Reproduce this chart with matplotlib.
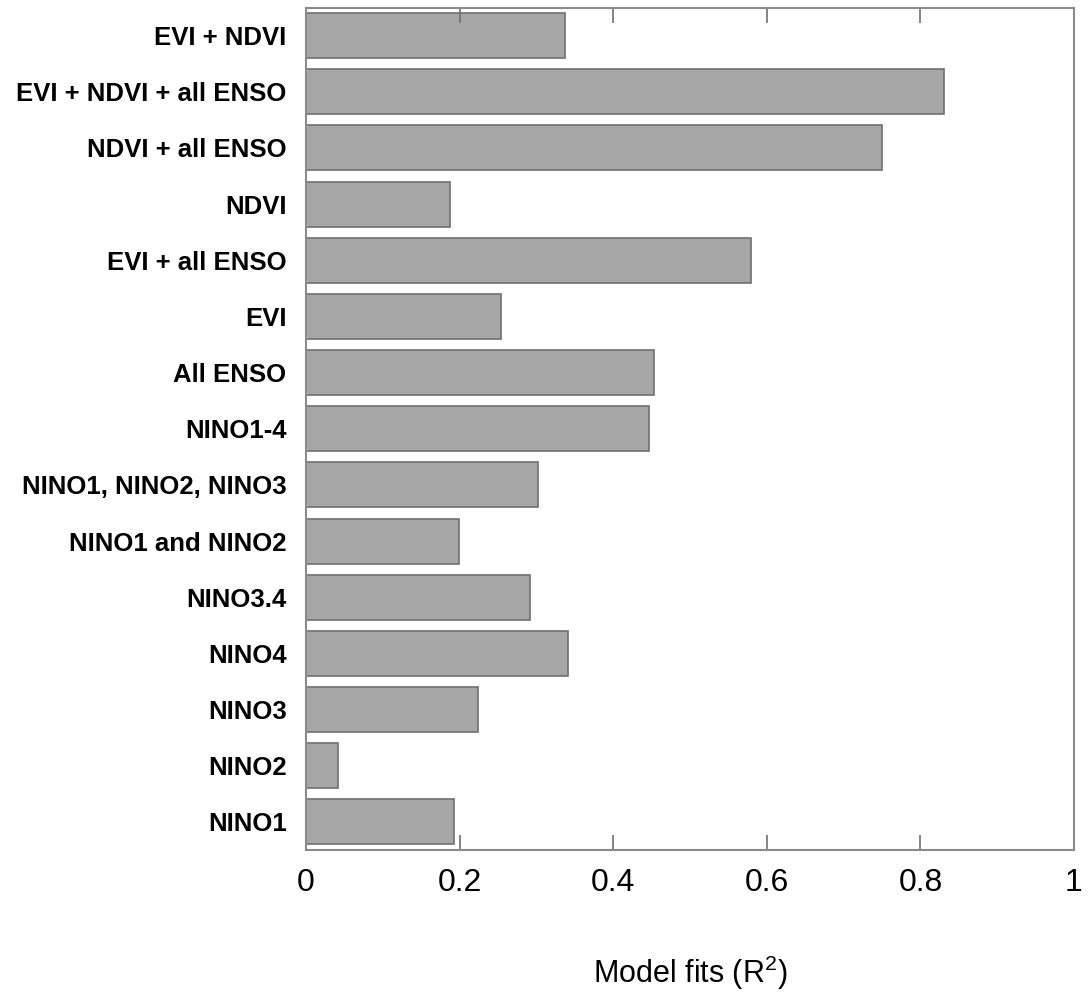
import matplotlib.pyplot as plt

plt.rcParams['font.family'] = ['Liberation Sans', 'DejaVu Sans']
plt.rcParams['mathtext.fontset'] = 'custom'
plt.rcParams['mathtext.rm'] = 'Liberation Sans'

# model names, bottom to top
models = ['NINO1', 'NINO2', 'NINO3', 'NINO4', 'NINO3.4', 'NINO1 and NINO2',
          'NINO1, NINO2, NINO3', 'NINO1-4', 'All ENSO', 'EVI', 'EVI + all ENSO',
          'NDVI', 'NDVI + all ENSO', 'EVI + NDVI + all ENSO', 'EVI + NDVI']
r2 = [0.193, 0.042, 0.224, 0.341, 0.292, 0.199,
      0.302, 0.447, 0.453, 0.254, 0.579,
      0.188, 0.750, 0.831, 0.337]

xticks = [0, 0.2, 0.4, 0.6, 0.8, 1]
xticklabels = ['0', '0.2', '0.4', '0.6', '0.8', '1']

fig = plt.figure(figsize=(10.89, 10.01), dpi=100)
ax = fig.add_axes([0.281, 0.1508, 0.7052, 0.8417])

ax.barh(range(len(models)), r2, height=0.8, color='#a6a6a6',
        edgecolor='#707070', linewidth=1.2)

ax.set_xlim(0, 1)
ax.set_ylim(-0.5, len(models) - 0.5)
ax.set_xticks(xticks)
ax.set_xticklabels(xticklabels, fontsize=23)
ax.set_yticks(range(len(models)))
ax.set_yticklabels(models, fontsize=18.5, fontweight='bold')

ax.tick_params(axis='x', direction='in', length=11, width=1.2,
               color='#707070', top=True, pad=13)
ax.tick_params(axis='y', length=0, pad=14)

for s in ax.spines.values():
    s.set_color('#8a8a8a')
    s.set_linewidth(1.5)

ax.set_xlabel('Model fits (R$\\mathrm{^2}$)', fontsize=22, labelpad=40)

fig.savefig('out.png', dpi=100)
